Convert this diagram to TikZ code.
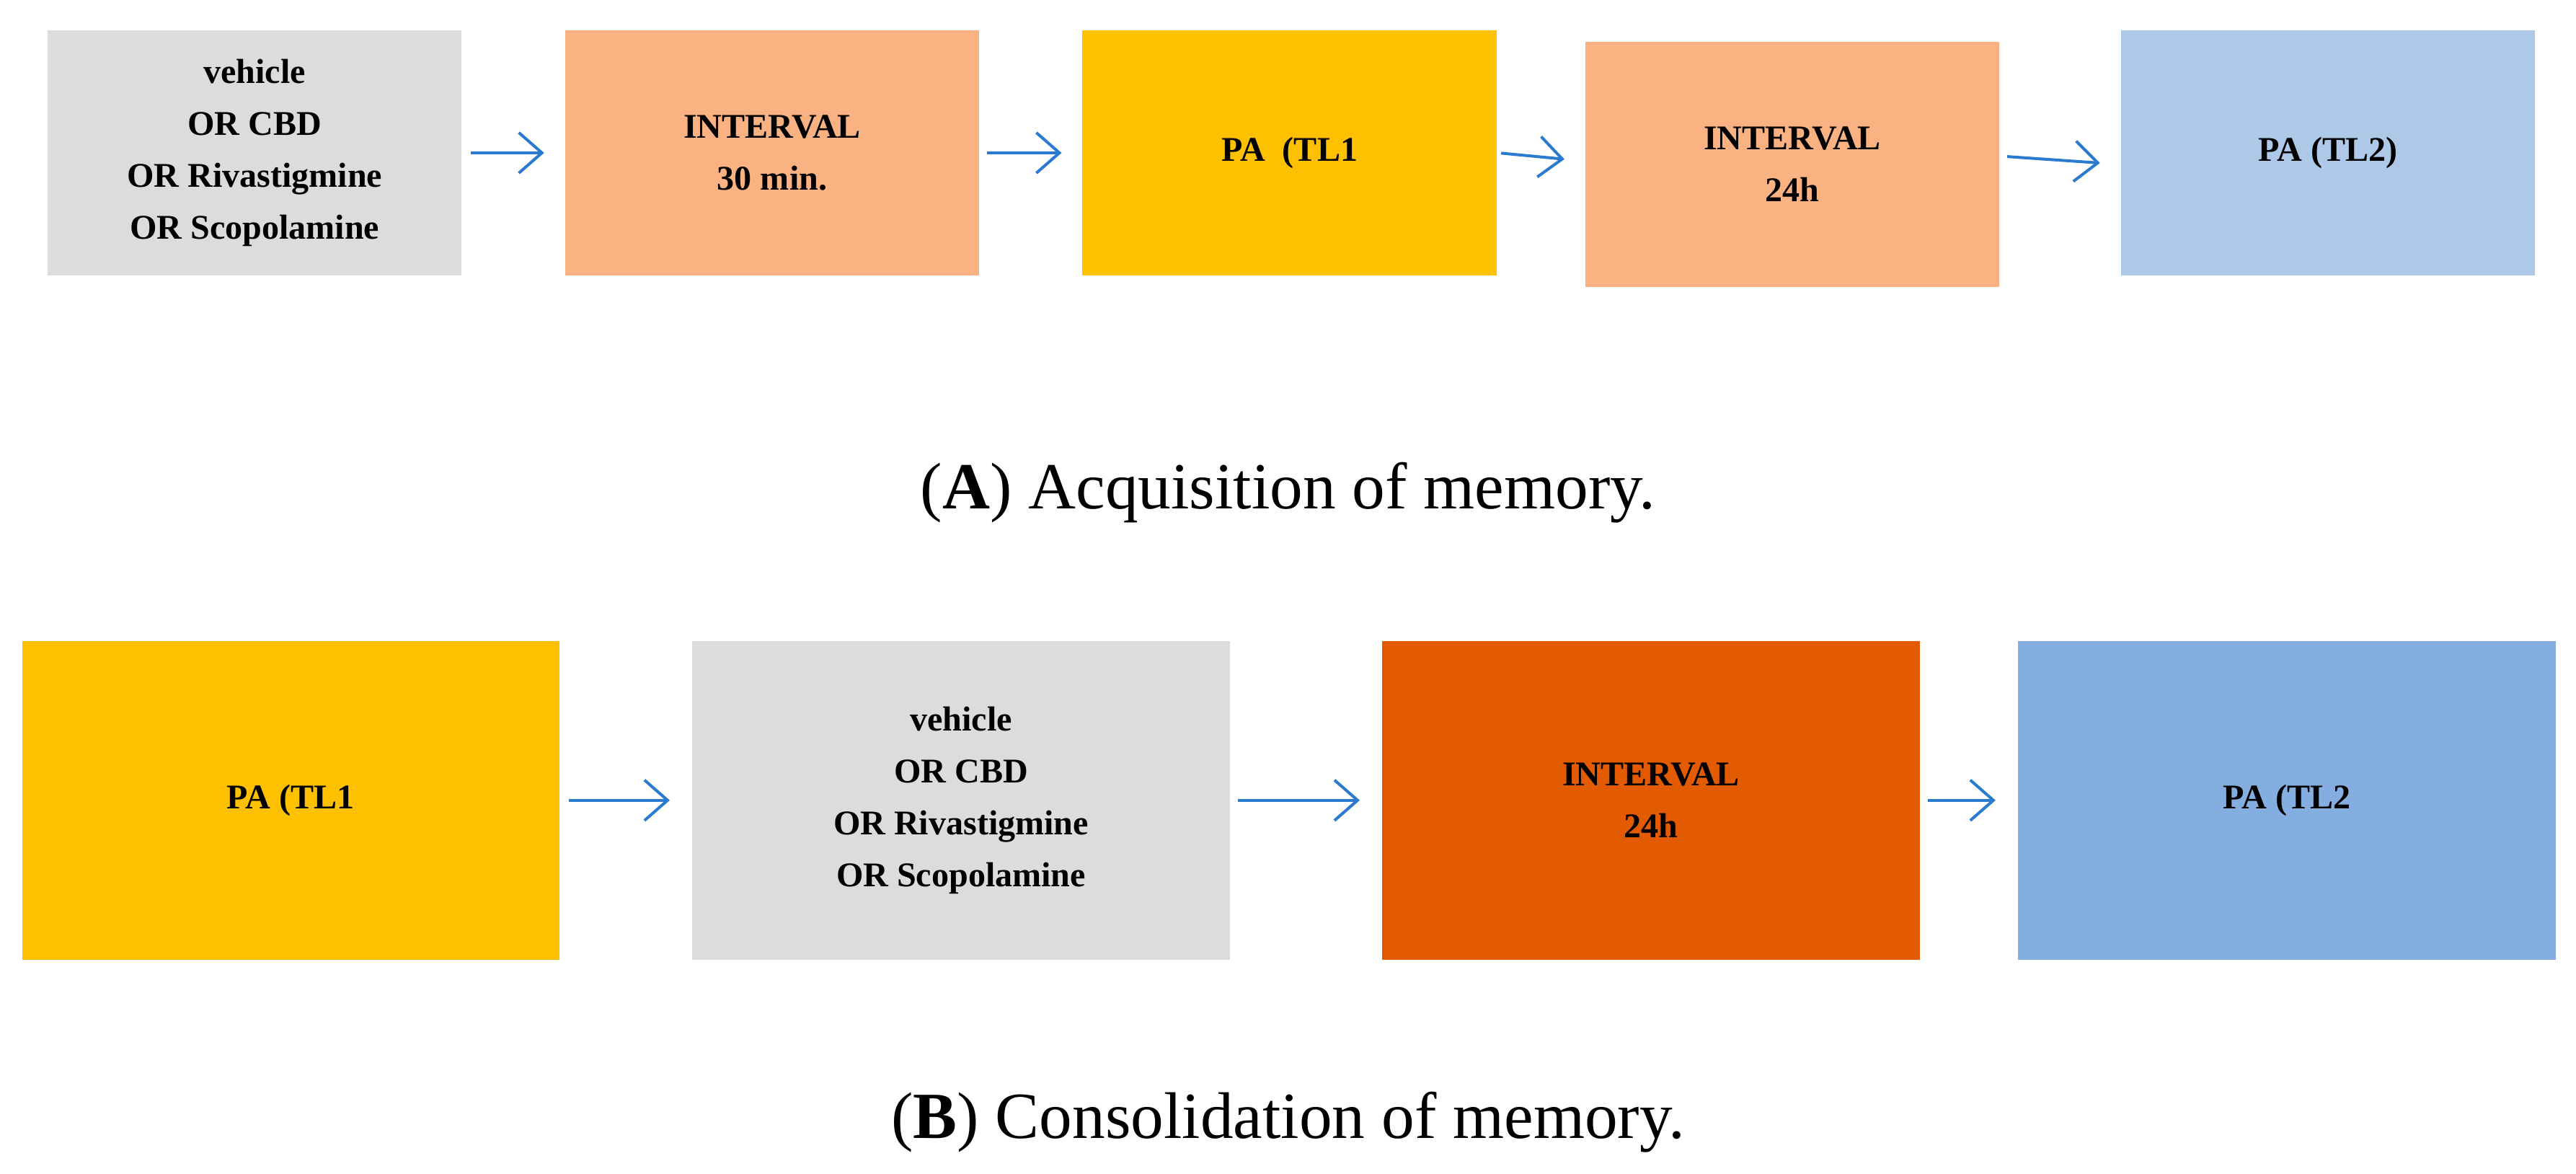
\documentclass[tikz,border=0pt]{standalone}
\usepackage{fontspec}
\setmainfont{Liberation Serif}
\usetikzlibrary{arrows.meta}
\definecolor{boxgray}{HTML}{DCDCDC}
\definecolor{salmon}{HTML}{FBB282}
\definecolor{gold}{HTML}{FFC000}
\definecolor{paleblue}{HTML}{AEC8E8}
\definecolor{burnt}{HTML}{E25B00}
\definecolor{midblue}{HTML}{84AEDF}
\definecolor{arrowblue}{HTML}{2A7BCF}

\begin{document}
\begin{tikzpicture}[x=0.01cm,y=-0.01cm,
    stepA/.style={minimum width=2.52cm, minimum height=1.49cm, inner sep=0pt,
        align=center, font=\fontsize{6}{9}\selectfont\bfseries},
    stepB/.style={stepA, minimum width=3.27cm, minimum height=1.94cm},
    flow/.style={draw=arrowblue, line width=0.5pt, -{Straight Barb[length=4pt,width=7pt]}},
    caption/.style={font=\fontsize{11.4}{14}\selectfont}]
    \useasboundingbox (0,0) rectangle (1568,714);

    % Acquisition row
    \node[stepA, fill=boxgray] (a1) at (155,93) {vehicle\\OR CBD\\OR Rivastigmine\\OR Scopolamine};
    \node[stepA, fill=salmon] (a2) at (470,93) {INTERVAL\\30 min.};
    \node[stepA, fill=gold] (a3) at (785,93) {PA \ (TL1};
    \node[stepA, fill=salmon] (a4) at (1091,100) {INTERVAL\\24h};
    \node[stepA, fill=paleblue] (a5) at (1417,93) {PA (TL2)};
    \draw[flow, shorten <=0.05cm, shorten >=0.12cm] (a1.east) -- (a1.east -| a2.west);
    \draw[flow, shorten <=0.04cm, shorten >=0.12cm] (a2.east) -- (a2.east -| a3.west);
    \draw[flow, shorten <=0.02cm, shorten >=0.12cm] (a3.east) -- ([yshift=-0.05cm]a3.east -| a4.west);
    \draw[flow, shorten <=0.04cm, shorten >=0.12cm] ([yshift=0.05cm]a4.east) -- (a4.east -| a5.west);
    \node[caption] (capA) at (784,300) {(\textbf{A}) Acquisition of memory.};

    % Consolidation row
    \node[stepB, fill=gold] (b1) at (177,487) {PA (TL1};
    \node[stepB, fill=boxgray] (b2) at (585,487) {vehicle\\OR CBD\\OR Rivastigmine\\OR Scopolamine};
    \node[stepB, fill=burnt] (b3) at (1005,487) {INTERVAL\\24h};
    \node[stepB, fill=midblue] (b4) at (1392,487) {PA (TL2};
    \draw[flow, shorten <=0.05cm, shorten >=0.13cm] (b1.east) -- (b2.west);
    \draw[flow, shorten <=0.04cm, shorten >=0.13cm] (b2.east) -- (b3.west);
    \draw[flow, shorten <=0.04cm, shorten >=0.13cm] (b3.east) -- (b4.west);
    \node[caption] (capB) at (784,683) {(\textbf{B}) Consolidation of memory.};
\end{tikzpicture}
\end{document}
